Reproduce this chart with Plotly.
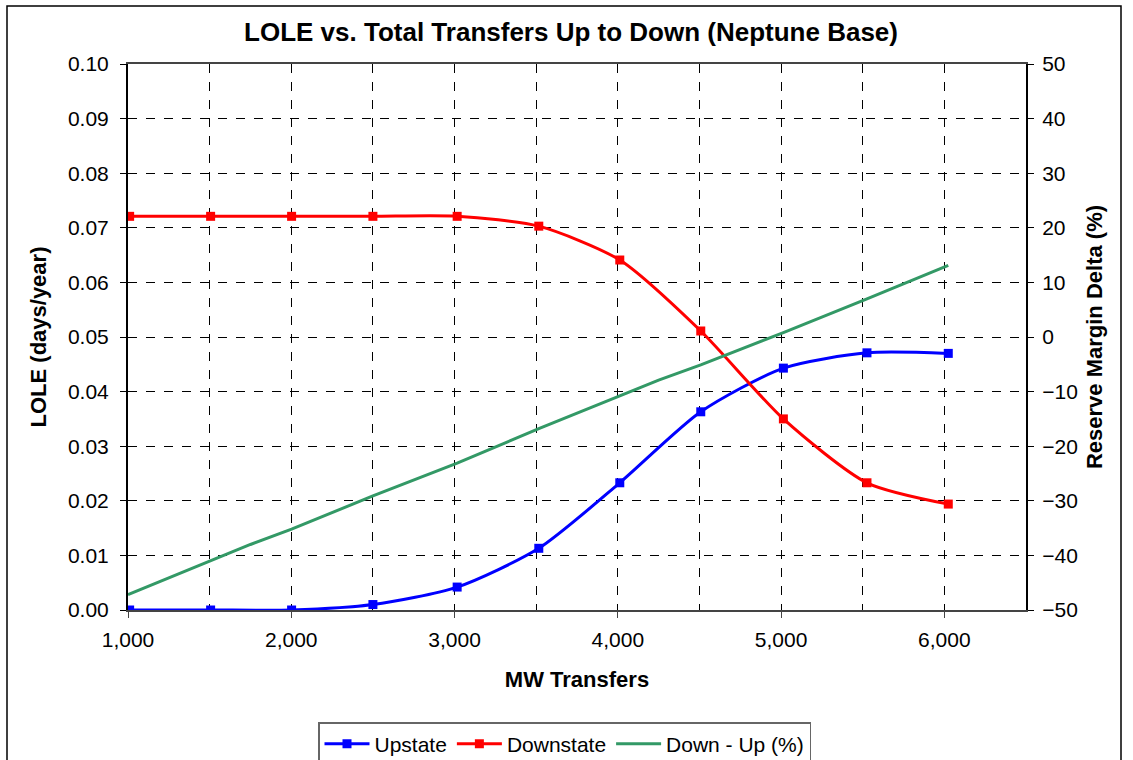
import plotly.graph_objects as go

# MW transfer levels (x) and LOLE results
transfers = [1010, 1506, 2002, 2500, 3016, 3516, 4012, 4508, 5014, 5526, 6024]
upstate = [0.0000, 0.0000, 0.0000, 0.0010, 0.0042, 0.0113, 0.0233, 0.0363, 0.0443, 0.0471, 0.0470]
downstate = [0.0721, 0.0721, 0.0721, 0.0721, 0.0721, 0.0703, 0.0641, 0.0511, 0.0350, 0.0233, 0.0194]

# reserve margin delta (right axis, %)
delta_x = [1000, 1506, 1750, 2002, 2500, 3016, 3516, 4012, 4250, 4508, 5014, 5526, 6024]
delta = [-47.2, -41.0, -38.0, -35.2, -29.1, -23.1, -16.8, -10.8, -7.9, -5.1, 0.8, 7.0, 13.1]

FONT = "Liberation Sans, Arial, sans-serif"

fig = go.Figure()
fig.add_trace(go.Scatter(x=transfers, y=upstate, name="Upstate", mode="lines+markers",
                         line=dict(color="#0000ff", width=3, shape="spline", smoothing=0.7),
                         marker=dict(symbol="square", size=9, color="#0000ff")))
fig.add_trace(go.Scatter(x=transfers, y=downstate, name="Downstate", mode="lines+markers",
                         line=dict(color="#ff0000", width=3, shape="spline", smoothing=0.7),
                         marker=dict(symbol="square", size=9, color="#ff0000")))
fig.add_trace(go.Scatter(x=delta_x, y=delta, name="Down - Up (%)", mode="lines", yaxis="y2",
                         line=dict(color="#339966", width=3)))

W, H = 1133, 760
l, r, t, b = 128, 107, 64, 150
pw, ph = W - l - r, H - t - b


def px(xp):
    return (xp - l) / pw


def py(yp):
    return (H - b - yp) / ph


fig.update_layout(
    width=W, height=H,
    margin=dict(l=l, r=r, t=t, b=b, autoexpand=False),
    paper_bgcolor="white", plot_bgcolor="white",
    font=dict(family=FONT, size=21, color="black"),
    title=dict(text="<b>LOLE vs. Total Transfers Up to Down (Neptune Base)</b>",
               x=571 / W, xref="container", y=1 - 32 / H, yref="container",
               xanchor="center", yanchor="middle", font=dict(size=26)),
    xaxis=dict(range=[1000, 6500], dtick=1000, tick0=1000, tickformat=",d",
               showline=True, linecolor="#444", linewidth=2, mirror=True,
               ticks="outside", ticklen=6, tickcolor="#444", ticklabelstandoff=4,
               showgrid=True, gridcolor="black", gridwidth=1, griddash="dash",
               minor=dict(dtick=500, tick0=1000, showgrid=True, gridcolor="black", griddash="dash"),
               zeroline=False,
               title=dict(text="<b>MW Transfers</b>", standoff=21, font=dict(size=22))),
    yaxis=dict(range=[0, 0.10], dtick=0.01, tickformat=".2f",
               showline=True, linecolor="black", linewidth=2,
               ticks="outside", ticklen=6, tickcolor="black", ticklabelstandoff=7,
               showgrid=True, gridcolor="black", gridwidth=1, griddash="dash",
               zeroline=False,
               title=dict(text="<b>LOLE (days/year)</b>", standoff=15, font=dict(size=22))),
    yaxis2=dict(range=[-50, 50], dtick=10, overlaying="y", side="right",
                showline=True, linecolor="black", linewidth=2,
                ticks="outside", ticklen=6, tickcolor="black", ticklabelstandoff=4,
                showgrid=False, zeroline=False,
                title=dict(text="<b>Reserve Margin Delta (%)</b>", standoff=10, font=dict(size=22))),
    legend=dict(orientation="h", x=px(318), xanchor="left", y=py(722), yanchor="top",
                bordercolor="#666", borderwidth=1.5, bgcolor="white",
                font=dict(size=21), itemwidth=45, tracegroupgap=0),
    showlegend=True,
    shapes=[dict(type="rect", xref="paper", yref="paper",
                 x0=px(7), x1=px(1121), y0=py(800), y1=py(6),
                 line=dict(color="black", width=1.5), layer="below")],
)

# drop the default page margin so the chart sits at the window's top-left corner
fig.write_html("out.html", config={"displayModeBar": False},
               post_script="document.body.style.margin='0';")
